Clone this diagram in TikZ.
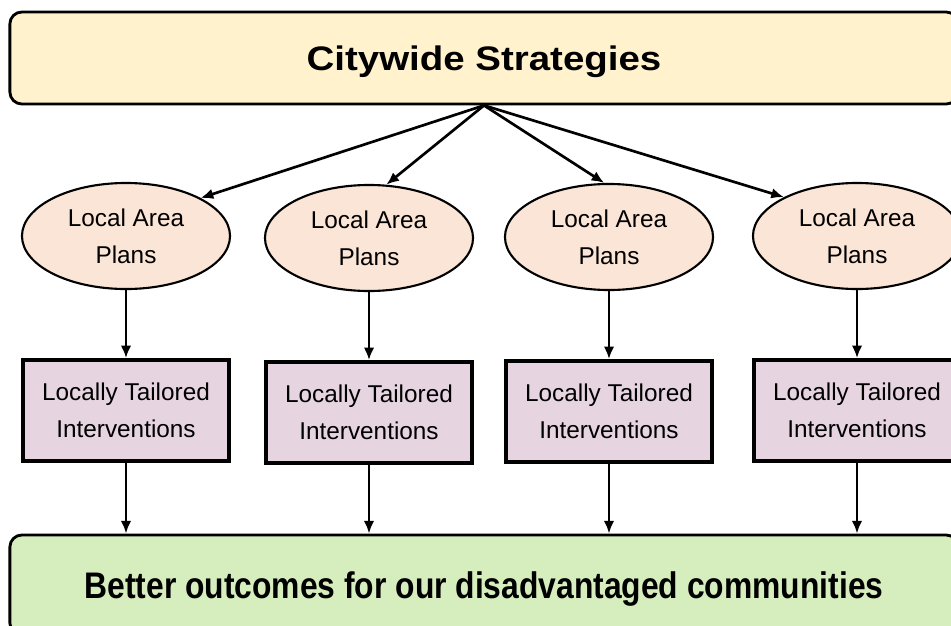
\documentclass[tikz,border=0pt]{standalone}
\usepackage{fontspec}
\setmainfont{Liberation Sans}
\newfontfamily\widebold[FakeStretch=1.13]{Liberation Sans}
\newfontfamily\narrowbold[FakeStretch=0.86]{Liberation Sans}
\usetikzlibrary{arrows.meta,shapes.geometric,positioning}
\definecolor{strategyfill}{HTML}{FFF2CC}
\definecolor{planfill}{HTML}{FBE5D6}
\definecolor{actionfill}{HTML}{E6D5E1}
\definecolor{outcomefill}{HTML}{D6EDBD}
\begin{document}
\begin{tikzpicture}[x=0.025cm,y=-0.025cm,node distance=4.36cm,
	link/.style = {-{Latex[length=9pt,width=7.5pt]},line width=1.9pt},
	wide box/.style = {rectangle,rounded corners=0.3cm,draw,line width=2pt,minimum width=23.7cm,text depth=0pt},
	plan node/.style = {ellipse,draw,line width=1.5pt,fill=planfill,inner sep=0pt,
		minimum width=5.2cm,minimum height=2.65cm,align=center,font=\fontsize{17.3}{26.5}\selectfont},
	action node/.style = {rectangle,draw,line width=2.5pt,fill=actionfill,inner sep=0pt,
		minimum width=5.15cm,minimum height=2.525cm,align=center,font=\fontsize{17.3}{26}\selectfont}]
	\useasboundingbox (0,0) rectangle (951,625);
	\clip (0,0) rectangle (951,625);
	% top and bottom bands
	\node[wide box,fill=strategyfill,minimum height=2.3cm,
		font=\widebold\fontsize{24.2}{29}\selectfont\bfseries] (city) at (484,58) {Citywide Strategies};
	\node[wide box,fill=outcomefill,minimum height=2.5cm,
		font=\narrowbold\fontsize{26.3}{31}\selectfont\bfseries] (better) at (484,585) {Better outcomes for our disadvantaged communities};
	% plans and interventions
	\node[plan node] (p1) at (126,236) {Local Area\\Plans};
	\node[plan node] (p2) at (369,238) {Local Area\\Plans};
	\node[plan node] (p3) at (609,237) {Local Area\\Plans};
	\node[plan node] (p4) at (857,236) {Local Area\\Plans};
	\node[action node] [below of = p1] (a1) {Locally Tailored\\Interventions};
	\node[action node] [below of = p2] (a2) {Locally Tailored\\Interventions};
	\node[action node] [below of = p3] (a3) {Locally Tailored\\Interventions};
	\node[action node] [below of = p4] (a4) {Locally Tailored\\Interventions};

	\draw[link] (city.south) -- (p1.27);
	\draw[link] (city.south) -- (p2.72);
	\draw[link] (city.south) -- (p3.95);
	\draw[link] (city.south) -- (p4.152);
	\foreach \i in {1,...,4} {
		\draw[link] (p\i) -- (a\i);
		\draw[link] (a\i) -- (a\i |- better.north);
	}
\end{tikzpicture}
\end{document}
